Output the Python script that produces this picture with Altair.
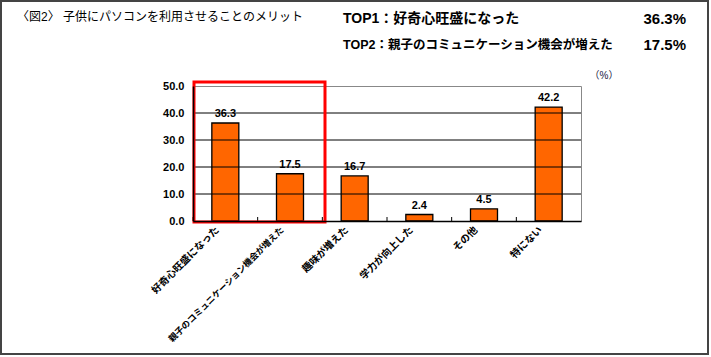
import altair as alt
import pandas as pd

categories = ["好奇心旺盛になった", "親子のコミュニケーション機会が増えた", "趣味が増えた",
              "学力が向上した", "その他", "特にない"]
values = [36.3, 17.5, 16.7, 2.4, 4.5, 42.2]
grid_values = [10, 20, 30, 40]
y_ticks = [0, 10, 20, 30, 40, 50]
title_text = "〈図2〉  子供にパソコンを利用させることのメリット"
top_labels = ["TOP1：好奇心旺盛になった", "TOP2：親子のコミュニケーション機会が増えた"]
top_values = ["36.3%", "17.5%"]
unit_text = "（%）"

FONT = "Liberation Sans, Noto Sans CJK JP"
W, H = 388, 135

df = pd.DataFrame({"cat": categories, "val": values})
xs = alt.Scale(domain=categories, paddingInner=0.0, paddingOuter=0.0)
ys = alt.Scale(domain=[0, 50])
one = alt.Data(values=[{"a": 1}])

yaxis = alt.Axis(title=None, values=y_ticks, format=".1f", grid=False,
                 labelFont=FONT, labelFontSize=11, labelFontWeight="bold", labelColor="black",
                 labelPadding=9, ticks=False, domainColor="black", domainWidth=1.5, zindex=1)
xaxis = alt.Axis(title=None, labelAngle=-45, labelAlign="right", labelBaseline="middle",
                 labelFont=FONT,
                 labelFontSize={"condition": {"test": "length(datum.label) > 12", "value": 8.8},
                                "value": 10},
                 labelFontWeight="bold", labelColor="black",
                 labelPadding=7, labelOffset=-8, ticks=False, domainColor="black", domainWidth=1.5,
                 labelLimit=300, zindex=1)

bars = alt.Chart(df).mark_bar(size=27, color="#FF6600", stroke="black", strokeWidth=1.3).encode(
    x=alt.X("cat:N", scale=xs, sort=categories, axis=xaxis),
    y=alt.Y("val:Q", scale=ys, axis=yaxis))

grid = alt.Chart(pd.DataFrame({"val": grid_values})).mark_rule(color="black", strokeWidth=1).encode(
    y=alt.Y("val:Q", scale=ys, axis=yaxis), x=alt.value(0), x2=alt.value(W))

outer = alt.Chart(one).mark_rect(fill=None, fillOpacity=0, stroke="#444444", strokeWidth=2).encode(
    x=alt.value(-192), x2=alt.value(515), y=alt.value(-85), y2=alt.value(268))

labels = alt.Chart(df).mark_text(font=FONT, fontSize=11, fontWeight="bold", baseline="bottom", dy=-4,
                                 color="black").encode(
    x=alt.X("cat:N", scale=xs, sort=categories, axis=xaxis), y=alt.Y("val:Q", scale=ys, axis=yaxis),
    text=alt.Text("val:Q", format=".1f"))

ticks = alt.Chart(df).mark_rule(color="black", strokeWidth=1).encode(
    x=alt.X("cat:N", scale=xs, sort=categories, bandPosition=0, axis=xaxis),
    y=alt.value(H - 4), y2=alt.value(H))

redbox = alt.Chart(one).mark_rect(fill=None, fillOpacity=0, stroke="#FF0000", strokeWidth=3).encode(
    x=alt.value(1), x2=alt.value(132), y=alt.value(-4), y2=alt.value(H + 1))

title = alt.Chart(one).mark_text(font=FONT, fontSize=12, align="left", baseline="middle",
                                 color="black").encode(
    x=alt.value(-176), y=alt.value(-69), text=alt.value(title_text))
top1 = alt.Chart(one).mark_text(font=FONT, fontSize=14, fontWeight="bold", align="left",
                                baseline="middle", color="black").encode(
    x=alt.value(150), y=alt.value(-67), text=alt.value(top_labels[0]))
top2 = alt.Chart(one).mark_text(font=FONT, fontSize=12.5, fontWeight="bold", align="left",
                                baseline="middle", color="black").encode(
    x=alt.value(150), y=alt.value(-41), text=alt.value(top_labels[1]))
v1 = alt.Chart(one).mark_text(font=FONT, fontSize=15, fontWeight="bold", align="right",
                              baseline="middle", color="black").encode(
    x=alt.value(493), y=alt.value(-67), text=alt.value(top_values[0]))
v2 = alt.Chart(one).mark_text(font=FONT, fontSize=15, fontWeight="bold", align="right",
                              baseline="middle", color="black").encode(
    x=alt.value(493), y=alt.value(-41), text=alt.value(top_values[1]))
unit = alt.Chart(one).mark_text(font=FONT, fontSize=10, align="center", baseline="middle",
                                color="#222244").encode(
    x=alt.value(411), y=alt.value(-10), text=alt.value(unit_text))

chart = alt.layer(bars, grid, labels, ticks, outer, redbox, title, top1, top2, v1, v2, unit).properties(
    width=W, height=H,
    autosize=alt.AutoSizeParams(type="none"),
    padding={"left": 193, "top": 86, "right": 130, "bottom": 136},
    background="white",
).configure_view(stroke="#888888", strokeWidth=1)

chart.save("out.html", embed_options={"renderer": "svg", "actions": False})
